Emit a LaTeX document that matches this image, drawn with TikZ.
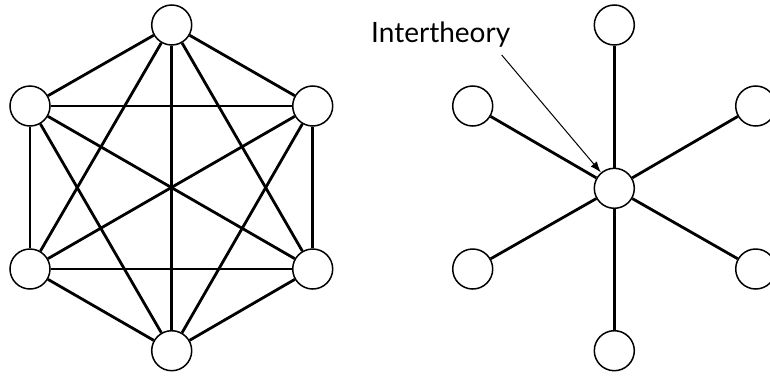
\documentclass[tikz,border=0pt]{standalone}
\usepackage{fontspec}
\setmainfont{Lato}
\usetikzlibrary{arrows.meta}
\tikzset{
  >={Latex[length=11pt,width=8pt]},
  theory/.style={circle,draw=black,fill=white,line width=1.5pt,minimum size=40pt,inner sep=0pt},
  link/.style={line width=2.8pt,draw=black},
  pointer/.style={->,line width=1pt,draw=black},
  callout/.style={font=\fontsize{28}{32}\selectfont,inner sep=0pt,anchor=base west}
}
\begin{document}
\begin{tikzpicture}[x=1pt,y=-1pt]
  \useasboundingbox (0,0) rectangle (770,375);
  % complete graph
  \node[theory] (top) at (171.7,25) {};
  \node[theory] (upleft) at (30,106) {};
  \node[theory] (upright) at (312.7,106) {};
  \node[theory] (lowleft) at (30,269) {};
  \node[theory] (lowright) at (312.7,269) {};
  \node[theory] (bottom) at (171.7,350.7) {};

  \draw[link] (top)--(upleft);
  \draw[link] (top)--(upright);
  \draw[link] (top)--(lowleft);
  \draw[link] (top)--(lowright);
  \draw[link] (top)--(bottom);
  \draw[link] (upleft)--(upright);
  \draw[link] (upleft)--(lowleft);
  \draw[link] (upleft)--(lowright);
  \draw[link] (upleft)--(bottom);
  \draw[link] (upright)--(lowleft);
  \draw[link] (upright)--(lowright);
  \draw[link] (upright)--(bottom);
  \draw[link] (lowleft)--(lowright);
  \draw[link] (lowleft)--(bottom);
  \draw[link] (lowright)--(bottom);

  % star
  \node[theory] (hub) at (614.3,188.3) {};
  \node[theory] (startop) at (614.3,25) {};
  \node[theory] (starupleft) at (472.7,106) {};
  \node[theory] (starupright) at (755.7,106) {};
  \node[theory] (starlowleft) at (472.7,269) {};
  \node[theory] (starlowright) at (755.7,269) {};
  \node[theory] (starbottom) at (614.3,350.7) {};

  \draw[link] (hub)--(startop);
  \draw[link] (hub)--(starupleft);
  \draw[link] (hub)--(starupright);
  \draw[link] (hub)--(starlowleft);
  \draw[link] (hub)--(starlowright);
  \draw[link] (hub)--(starbottom);

  \node[callout] (label) at (371,42) {Intertheory};
  \coordinate (tail) at (501.7,55);
  \draw[pointer] (tail)--(hub);
\end{tikzpicture}
\end{document}
